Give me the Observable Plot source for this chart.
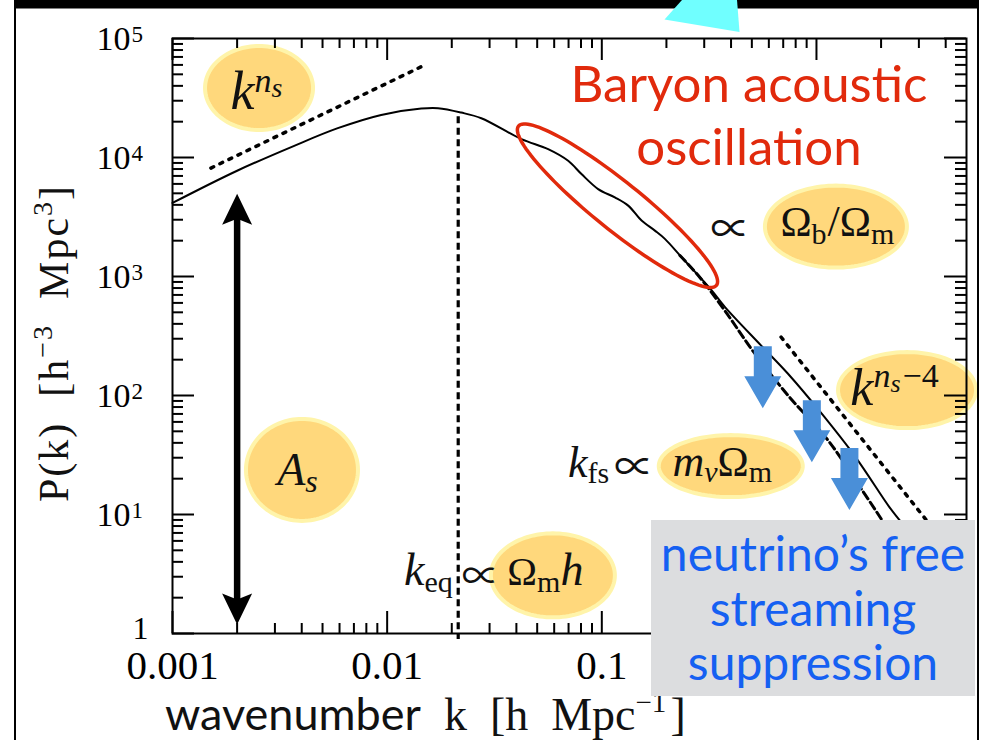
<!DOCTYPE html>
<html>
<head>
<meta charset="utf-8">
<script src="https://cdn.jsdelivr.net/npm/d3@7"></script>
<script src="https://cdn.jsdelivr.net/npm/@observablehq/plot@0.6"></script>
<style>
  html, body { margin: 0; padding: 0; background: #fff; }
  #chart { width: 985px; height: 740px; overflow: hidden; }
  #chart svg { display: block; }
</style>
</head>
<body>
<div id="chart"></div>
<script>
const SERIF = "'Liberation Serif', 'DejaVu Serif', serif";
const SYMBOL = "'Noto Sans CJK JP', 'DejaVu Serif', serif";
const SANS = "Lato, 'Open Sans', 'Noto Sans', sans-serif";

// Linear matter power spectrum P(k) (solid curve)
const kLinear = [0.001, 0.0020, 0.00369, 0.00589, 0.00938, 0.01442, 0.01726, 0.02213, 0.02746,
  0.04224, 0.05623, 0.0697, 0.08041, 0.09616, 0.1150, 0.1327, 0.1532, 0.1767, 0.1967, 0.2355,
  0.2818, 0.3251, 0.3750, 0.5502, 0.7352, 1.056, 1.518, 2.182, 2.433, 3.10];
const pLinear = [4150, 7740, 12540, 17640, 22800, 25760, 25950, 23850, 21380,
  14260, 11750, 9380, 7260, 5430, 4620, 3940, 2950, 2430, 2070, 1450,
  1020, 764, 553, 265, 153, 70.6, 30.5, 11.6, 9.0, 5.0];

// Spectrum with massive neutrinos: free-streaming suppression (dashed curve)
const kNu = [0.2312, 0.2858, 0.3821, 0.5106, 0.7358, 1.130, 1.629, 2.018];
const pNu = [1500, 986, 490, 231, 100.5, 42.2, 16.1, 9.0];

// Asymptotic power laws (dotted guides): k^ns on large scales, k^(ns-4) on small scales
const kLarge = [0.00151, 0.01521];
const pLarge = [8150, 60660];
const kSmall = [0.6839, 3.243];
const pSmall = [310, 9.01];

// Matter-radiation equality scale, and the amplitude arrow A_s
const kEq = 0.02143;
const pEqSpan = [21970, 0.89];
const kAmp = 0.002;
const pAmpSpan = [4966, 1.19];

// Axis ticks
const xMajor = [0.001, 0.01, 0.1, 1];
const xLabeled = [0.001, 0.01, 0.1];
const xTickLabels = ["0.001", "0.01", "0.1"];
const yMajor = [1, 10, 100, 1000, 10000, 100000];
const yTickBase = ["1", "10", "10", "10", "10", "10"];
const yTickExp = ["", "1", "2", "3", "4", "5"];

// Parameter bubbles, anchored at (k, P)
const bubbleK = [0.00253, 0.00401, 1.232, 2.642, 0.3988, 0.05916];
const bubbleP = [38370, 23.7, 2625, 111, 25.5, 3.08];

// Suppression arrows (top of each arrow, at (k, P))
const arrowK = [0.5623, 0.9517, 1.424];
const arrowP = [259, 91.4, 36.2];

// Centre of the baryon acoustic oscillation region
const baoK = [0.1183];
const baoP = [3934];

// ---- tables built from the arrays above ----
const linear = kLinear.map((k, i) => ({k, P: pLinear[i]}));
const withNu = kNu.map((k, i) => ({k, P: pNu[i]}));
const largeScale = kLarge.map((k, i) => ({k, P: pLarge[i]}));
const smallScale = kSmall.map((k, i) => ({k, P: pSmall[i]}));
const bubbles = bubbleK.map((k, i) => ({k, P: bubbleP[i]}));
const arrows = arrowK.map((k, i) => ({k, P: arrowP[i]}));
const bao = baoK.map((k, i) => ({k, P: baoP[i]}));

const xMinor = xMajor.flatMap(d => d3.range(2, 10).map(m => m * d)).filter(v => v < 4.99);
const yMinor = yMajor.slice(0, -1).flatMap(d => d3.range(2, 10).map(m => m * d));

// ---- custom symbols ----
function ellipseSymbol(rx, ry, deg = 0) {
  const a = deg * Math.PI / 180, c = Math.cos(a), s = Math.sin(a);
  return {
    draw(ctx) {
      for (let j = 0; j <= 120; j++) {
        const t = 2 * Math.PI * j / 120;
        const ex = rx * Math.cos(t), ey = ry * Math.sin(t);
        const px = ex * c - ey * s, py = ex * s + ey * c;
        j ? ctx.lineTo(px, py) : ctx.moveTo(px, py);
      }
      ctx.closePath();
    }
  };
}
const headUp = {draw(ctx) { ctx.moveTo(0, 0); ctx.lineTo(15, 31); ctx.lineTo(0, 25); ctx.lineTo(-15, 31); ctx.closePath(); }};
const headDown = {draw(ctx) { ctx.moveTo(0, 0); ctx.lineTo(15, -31); ctx.lineTo(0, -25); ctx.lineTo(-15, -31); ctx.closePath(); }};
const blockArrow = {draw(ctx) {
  ctx.moveTo(-9, 0); ctx.lineTo(9, 0); ctx.lineTo(9, 30); ctx.lineTo(18.5, 30);
  ctx.lineTo(0, 62); ctx.lineTo(-18.5, 30); ctx.lineTo(-9, 30); ctx.closePath();
}};

const bubbleSizes = [[54, 42], [56, 51], [71, 41], [69, 38], [72, 31], [62, 42]];
const bubbleFill = "#FFD87C", bubbleRim = "#FFF4AA";

// ---- tick helpers (inward ticks on all four sides) ----
const tickStyle = {stroke: "black", strokeWidth: 2};
function xTicks(values, len) {
  return [
    Plot.ruleX(values, {x: d => d, y1: () => 1, y2: () => 1, insetTop: -len, ...tickStyle}),
    Plot.ruleX(values, {x: d => d, y1: () => 1e5, y2: () => 1e5, insetBottom: -len, ...tickStyle})
  ];
}
function yTicks(values, len) {
  return [
    Plot.ruleY(values, {y: d => d, x1: () => 0.001, x2: () => 0.001, insetRight: -len, ...tickStyle}),
    Plot.ruleY(values, {y: d => d, x1: () => 5, x2: () => 5, insetLeft: -len, ...tickStyle})
  ];
}
const hasExp = (d, i) => yTickExp[i] !== "";

const chart = Plot.plot({
  width: 985,
  height: 740,
  marginLeft: 172,
  marginRight: 19,
  marginTop: 38,
  marginBottom: 107,
  x: {type: "log", domain: [0.001, 5], axis: null},
  y: {type: "log", domain: [1, 1e5], axis: null},
  style: {background: "white", overflow: "visible"},
  marks: [
    // parameter bubbles
    ...bubbles.map((b, i) => Plot.dot([b], {
      x: "k", y: "P", symbol: ellipseSymbol(bubbleSizes[i][0], bubbleSizes[i][1]),
      fill: bubbleFill, stroke: bubbleRim, strokeWidth: 4
    })),
    // axes
    Plot.frame({stroke: "black", strokeWidth: 2}),
    ...xTicks(xMajor, 22), ...xTicks(xMinor, 10),
    ...yTicks(yMajor, 22), ...yTicks(yMinor, 11),
    Plot.text(xLabeled, {x: d => d, y: () => 1, text: (d, i) => xTickLabels[i], dy: 32,
      fontSize: 41, fontFamily: SERIF, fill: "black"}),
    Plot.text(yMajor, {filter: hasExp, x: () => 0.001, y: d => d, text: (d, i) => yTickBase[i],
      textAnchor: "end", dx: -42, dy: 1, fontSize: 34, fontFamily: SERIF, fill: "black"}),
    Plot.text(yMajor, {filter: hasExp, x: () => 0.001, y: d => d, text: (d, i) => yTickExp[i],
      textAnchor: "start", dx: -41, dy: -4, fontSize: 23, fontFamily: SERIF, fill: "black"}),
    Plot.text(yMajor, {filter: (d, i) => !hasExp(d, i), x: () => 0.001, y: d => d, text: (d, i) => yTickBase[i],
      textAnchor: "end", dx: -24, dy: -5, fontSize: 32, fontFamily: SERIF, fill: "black"}),
    // power-law guides
    Plot.line(largeScale, {x: "k", y: "P", stroke: "black", strokeWidth: 3.5, strokeDasharray: "3,7"}),
    Plot.line(smallScale, {x: "k", y: "P", stroke: "black", strokeWidth: 3.5, strokeDasharray: "3,7"}),
    // equality scale
    Plot.ruleX([kEq], {x: d => d, y1: () => pEqSpan[0], y2: () => pEqSpan[1],
      stroke: "black", strokeWidth: 3.2, strokeDasharray: "7,4.5"}),
    // spectra
    Plot.line(withNu, {x: "k", y: "P", stroke: "black", strokeWidth: 3, strokeDasharray: "8,4", curve: "catmull-rom"}),
    Plot.line(linear, {x: "k", y: "P", stroke: "black", strokeWidth: 2, curve: "catmull-rom"}),
    // amplitude arrow
    Plot.ruleX([kAmp], {x: d => d, y1: () => pAmpSpan[0], y2: () => pAmpSpan[1],
      insetTop: 22, insetBottom: 22, stroke: "black", strokeWidth: 6.5}),
    Plot.dot([{k: kAmp, P: pAmpSpan[0]}], {x: "k", y: "P", symbol: headUp, fill: "black", stroke: "none"}),
    Plot.dot([{k: kAmp, P: pAmpSpan[1]}], {x: "k", y: "P", symbol: headDown, fill: "black", stroke: "none"}),
    // BAO ellipse
    Plot.dot(bao, {x: "k", y: "P", symbol: ellipseSymbol(127, 24, 38.8), fill: "none",
      stroke: "#E12A0C", strokeWidth: 3.5}),
    // neutrino suppression arrows
    Plot.dot(arrows, {x: "k", y: "P", symbol: blockArrow, fill: "#4A8FD8", stroke: "none"})
  ]
});

document.getElementById("chart").appendChild(chart);
const svg = d3.select(chart);
const xs = chart.scale("x"), ys = chart.scale("y");
const X = v => xs.apply(v), Y = v => ys.apply(v);

// ---- math labels ----
function math(x, y, parts, {anchor = "middle", size = 42} = {}) {
  const t = svg.append("text").attr("x", x).attr("y", y).attr("text-anchor", anchor)
    .attr("font-family", SERIF).attr("font-size", size).attr("fill", "#111");
  for (const p of parts) {
    const s = t.append("tspan").text(p.t);
    if (p.i) s.attr("font-style", "italic");
    if (p.s) s.attr("font-size", p.s);
    if (p.f) s.attr("font-family", p.f);
    if (p.dy) s.attr("dy", p.dy);
    if (p.dx) s.attr("dx", p.dx);
  }
  return t;
}
const bx = bubbles.map(b => X(b.k)), by = bubbles.map(b => Y(b.P));
const PROP = 40;

math(bx[0] - 2, by[0] + 21, [{t: "k", i: 1, s: 54}, {t: "n", i: 1, s: 34, dy: -17}, {t: "s", i: 1, s: 28, dy: 5}]);
math(bx[1] - 4, by[1] + 16, [{t: "A", i: 1, s: 46}, {t: "s", i: 1, s: 32, dy: 7}]);
math(bx[2] + 2, by[2] + 10, [{t: "Ω", s: 42}, {t: "b", s: 30, dy: 8}, {t: "/", s: 44, dy: -8, dx: 1},
  {t: "Ω", s: 42}, {t: "m", s: 30, dy: 8}]);
math(bx[2] - bubbleSizes[2][0] - 34, by[2] + 17, [{t: "∝", s: PROP, f: SYMBOL}]);
math(bx[3] - 12, by[3] + 15, [{t: "k", i: 1, s: 52}, {t: "n", i: 1, s: 34, dy: -18},
  {t: "s", i: 1, s: 26, dy: 5}, {t: "−4", s: 34, dy: -5, dx: 2}]);
math(bx[4] - 8, by[4] + 10, [{t: "m", i: 1, s: 44}, {t: "ν", i: 1, s: 30, dy: 6}, {t: "Ω", s: 42, dy: -6},
  {t: "m", s: 30, dy: 6}]);
math(bx[4] - bubbleSizes[4][0] - 4, by[4] + 11, [{t: "k", i: 1, s: 44}, {t: "fs", s: 30, dy: 6},
  {t: " ", s: 20, dy: -6}, {t: "∝", s: PROP, f: SYMBOL, dy: 4}], {anchor: "end"});
math(bx[5] - 7, by[5] + 10, [{t: "Ω", s: 40}, {t: "m", s: 30, dy: 7}, {t: "h", i: 1, s: 46, dy: -7}]);
math(X(kEq) - 5, by[5] + 10, [{t: "k", i: 1, s: 46}, {t: "eq", s: 30, dy: 7}], {anchor: "end"});
math(X(kEq) + 23, by[5] + 14, [{t: "∝", s: PROP - 2, f: SYMBOL}]);

// ---- BAO caption ----
const baoText = svg.append("text").attr("font-family", SANS).attr("font-size", 51)
  .attr("fill", "#E12A0C").attr("text-anchor", "middle");
baoText.append("tspan").attr("x", 749).attr("y", 102).text("Baryon acoustic");
baoText.append("tspan").attr("x", 749).attr("y", 165).text("oscillation");

// ---- axis titles ----
const yTitle = svg.append("text").attr("transform", "translate(68,502) rotate(-90)")
  .attr("text-anchor", "start").attr("font-family", SERIF).attr("font-size", 42)
  .attr("letter-spacing", 2).attr("fill", "#111");
yTitle.append("tspan").text("P(k)  [h");
yTitle.append("tspan").attr("font-size", 28).attr("dy", -16).text("−3");
yTitle.append("tspan").attr("dy", 16).text("  Mpc");
yTitle.append("tspan").attr("font-size", 28).attr("dy", -16).text("3");
yTitle.append("tspan").attr("dy", 16).text("]");

const xTitle = svg.append("text").attr("x", 165).attr("y", 730).attr("text-anchor", "start").attr("fill", "#111");
xTitle.append("tspan").attr("font-family", SANS).attr("font-size", 45).text("wavenumber");
xTitle.append("tspan").attr("font-family", SERIF).attr("font-size", 46).text("  k  [h  Mpc");
xTitle.append("tspan").attr("font-family", SERIF).attr("font-size", 29).attr("dy", -18).text("−1");
xTitle.append("tspan").attr("font-family", SERIF).attr("font-size", 46).attr("dy", 18).attr("dx", 4).text("]");

// ---- neutrino caption box ----
svg.append("rect").attr("x", 651).attr("y", 520).attr("width", 324).attr("height", 176).attr("fill", "#DCDDDF");
const nuText = svg.append("text").attr("font-family", SANS).attr("font-size", 48)
  .attr("fill", "#1560F2").attr("text-anchor", "middle");
[["neutrino’s free", 571], ["streaming", 626], ["suppression", 680]].forEach(([t, y]) =>
  nuText.append("tspan").attr("x", 813).attr("y", y).text(t));

// ---- slide frame ----
svg.append("rect").attr("x", 14).attr("y", 0).attr("width", 965).attr("height", 8.5).attr("fill", "black");
svg.append("rect").attr("x", 14).attr("y", 0).attr("width", 2).attr("height", 740).attr("fill", "black");
svg.append("rect").attr("x", 977).attr("y", 0).attr("width", 2).attr("height", 740).attr("fill", "black");
svg.append("polygon").attr("points", "682,0 737,0 739.5,32 664.5,19.5").attr("fill", "#70FFFF");
</script>
</body>
</html>
